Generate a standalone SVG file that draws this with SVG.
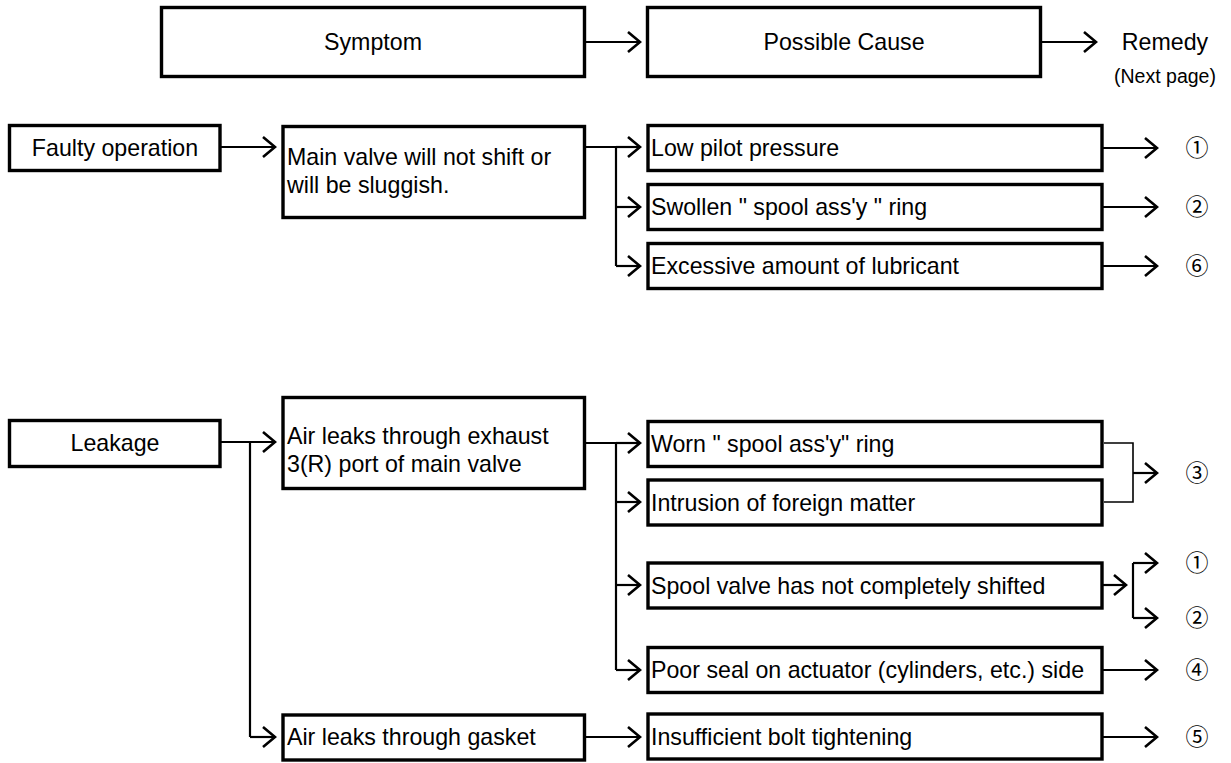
<svg xmlns="http://www.w3.org/2000/svg" width="1231" height="763" viewBox="0 0 1231 763">
<style>
.box{fill:#fff;stroke:#000;stroke-width:3.4}
.t{font-family:"Liberation Sans",Arial,sans-serif;font-size:23.2px;fill:#000}
.c{text-anchor:middle}
.n{font-family:"Noto Sans CJK JP","DejaVu Sans",sans-serif;font-size:23px;text-anchor:middle;fill:#000}
.ln{fill:none;stroke:#000;stroke-width:2.2}
.thin{fill:none;stroke:#000;stroke-width:1.6}
.ar{fill:none;stroke:#000;stroke-width:2.2;marker-end:url(#ah)}
</style>
<defs>
<marker id="ah" viewBox="-14 -12 16 24" refX="0" refY="0" markerWidth="16" markerHeight="24" markerUnits="userSpaceOnUse" orient="auto">
<path d="M-12,-10 L0,0 L-12,10" fill="none" stroke="#000" stroke-width="2.6"/>
</marker>
</defs>
<rect width="1231" height="763" fill="#fff"/>

<g id="connectors">
<path class="ar" d="M586,42 H640"/>
<path class="ar" d="M1042,42 H1096"/>
<path class="ar" d="M221,147 H275"/>
<path class="ln" d="M586,147 H616 V266"/>
<path class="ar" d="M616,147 H640"/>
<path class="ar" d="M616,207 H640"/>
<path class="ar" d="M616,266 H640"/>
<path class="ar" d="M1103,148 H1157"/>
<path class="ar" d="M1103,207 H1157"/>
<path class="ar" d="M1103,266 H1157"/>
<path class="ar" d="M221,442 H275"/>
<path class="ln" d="M250,442 V737"/>
<path class="ar" d="M250,737 H275"/>
<path class="ln" d="M586,443 H616 V670"/>
<path class="ar" d="M616,443 H640"/>
<path class="ar" d="M616,502 H640"/>
<path class="ar" d="M616,585 H640"/>
<path class="ar" d="M616,670 H640"/>
<path class="thin" d="M1104,443 H1133 V502 H1104"/>
<path class="ar" d="M1133,473 H1157"/>
<path class="ar" d="M1103,585 H1126"/>
<path class="ln" d="M1133,563 V618"/>
<path class="ar" d="M1133,563 H1157"/>
<path class="ar" d="M1133,618 H1157"/>
<path class="ar" d="M1103,670 H1157"/>
<path class="ar" d="M586,737 H640"/>
<path class="ar" d="M1103,737 H1157"/>
</g>

<g id="hdr-symptom"><rect class="box" x="161.5" y="7.5" width="423" height="69"/><text class="t c" x="373" y="50">Symptom</text></g>
<g id="hdr-cause"><rect class="box" x="647.5" y="7.5" width="393" height="69"/><text class="t c" x="844" y="50">Possible Cause</text></g>
<g id="hdr-remedy"><text class="t c" x="1165" y="50">Remedy</text><text class="t c" x="1165" y="83" style="font-size:19.5px">(Next  page)</text></g>

<g id="faulty"><rect class="box" x="9.5" y="125.5" width="210.5" height="45"/><text class="t c" x="115" y="156">Faulty operation</text></g>
<g id="main-valve"><rect class="box" x="283" y="126.5" width="301.5" height="91"/><text class="t" x="287" y="165">Main valve will not shift or</text><text class="t" x="287" y="193">will be sluggish.</text></g>
<g id="low-pilot"><rect class="box" x="648" y="125.5" width="454" height="45"/><text class="t" x="651" y="156">Low pilot pressure</text></g>
<g id="swollen"><rect class="box" x="648" y="184.5" width="454" height="45"/><text class="t" x="651" y="215">Swollen " spool ass'y " ring</text></g>
<g id="excessive"><rect class="box" x="648" y="243.5" width="454" height="45"/><text class="t" x="651" y="274">Excessive amount of lubricant</text></g>

<g id="leakage"><rect class="box" x="9.5" y="420.5" width="210.5" height="46"/><text class="t c" x="115" y="451">Leakage</text></g>
<g id="air-exhaust"><rect class="box" x="283" y="397.5" width="301.5" height="91"/><text class="t" x="287" y="444">Air leaks through exhaust</text><text class="t" x="287" y="472">3(R) port of main valve</text></g>
<g id="air-gasket"><rect class="box" x="283" y="715" width="301.5" height="45"/><text class="t" x="287" y="745">Air leaks through gasket</text></g>
<g id="worn"><rect class="box" x="648" y="421.5" width="454" height="45"/><text class="t" x="651" y="452">Worn " spool ass'y" ring</text></g>
<g id="intrusion"><rect class="box" x="648" y="480" width="454" height="45"/><text class="t" x="651" y="511">Intrusion of foreign matter</text></g>
<g id="spool"><rect class="box" x="648" y="563" width="454" height="45"/><text class="t" x="651" y="594">Spool valve has not completely shifted</text></g>
<g id="poor-seal"><rect class="box" x="648" y="647.5" width="454" height="45"/><text class="t" x="651" y="678">Poor seal on actuator (cylinders, etc.) side</text></g>
<g id="insufficient"><rect class="box" x="648" y="714" width="454" height="45"/><text class="t" x="651" y="745">Insufficient bolt tightening</text></g>

<g id="remedies">
<text class="n" x="1197" y="156">①</text>
<text class="n" x="1197" y="215">②</text>
<text class="n" x="1197" y="274">⑥</text>
<text class="n" x="1197" y="481">③</text>
<text class="n" x="1197" y="571">①</text>
<text class="n" x="1197" y="626">②</text>
<text class="n" x="1197" y="678">④</text>
<text class="n" x="1197" y="745">⑤</text>
</g>
</svg>
